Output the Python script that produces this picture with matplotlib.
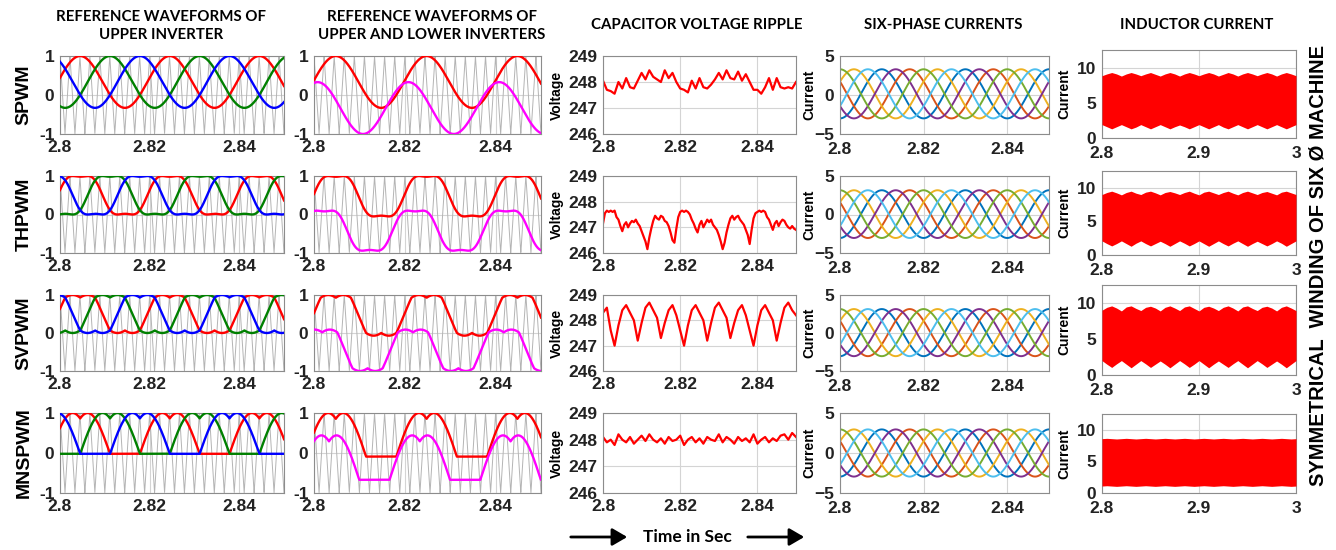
#!/usr/bin/env python3
"""
Reference waveforms, capacitor ripple, phase currents and inductor current
for four PWM schemes of a symmetrical six-phase drive.
Saves out.png (1336 x 550).
"""
import numpy as np
import matplotlib
matplotlib.use("Agg")
import matplotlib.pyplot as plt

W, H = 1336, 550

ROWS = ["SPWM", "THPWM", "SVPWM", "MNSPWM"]
COL_TITLES = [
    "REFERENCE WAVEFORMS OF\nUPPER INVERTER",
    "REFERENCE WAVEFORMS OF\nUPPER AND LOWER INVERTERS",
    "CAPACITOR VOLTAGE RIPPLE",
    "SIX-PHASE CURRENTS",
    "INDUCTOR CURRENT",
]
SIDE_TEXT = "SYMMETRICAL  WINDING OF SIX Ø MACHINE"
TIME_LABEL = "Time in Sec"

# fundamental / carrier (Hz) and zoom window (s)
F0 = 50.0
FC = 450.0
T_START, T_END = 2.80, 2.85

# reference waveforms (upper inverter): red peak time and (min, max) per row
RED_PEAK_C1 = 2.8045
C1_RANGE = [(-0.33, 1.0), (0.0, 1.0), (0.0, 1.0), (-0.02, 1.0)]

# upper (red) and lower (magenta) inverter references
RED_PEAK_C2 = 2.8048
C2_RED_RANGE = [(-0.33, 1.0), (-0.05, 1.0), (-0.07, 1.0), (-0.09, 1.0)]
C2_MAG_RANGE = [(-1.0, 0.33), (-0.94, 0.10), (-1.0, 0.09), (-0.67, 0.44)]
C2_MAG_LEAD = [0.0040, 0.0025, 0.0030, 0.0015]

# capacitor voltage (V), sampled every CAP_STEP s from 2.80
CAP_STEP = [0.001, 0.0005, 0.001, 0.001]
CAP_SPWM = [
    248.05, 247.7, 247.65, 247.55, 248.0, 247.75, 248.15, 247.8, 247.75, 248.05,
    248.35, 248.1, 248.45, 248.2, 248.1, 248.0, 248.45, 248.15, 248.35, 248.0,
    247.75, 247.7, 247.6, 248.05, 247.75, 248.15, 247.8, 247.75, 247.9, 248.1,
    248.35, 248.1, 248.45, 248.15, 248.1, 248.4, 248.05, 248.3, 248.0, 247.7,
    247.7, 247.55, 247.8, 248.15, 247.7, 248.15, 247.8, 247.75, 247.8, 247.75,
    248.0,
]
CAP_THPWM = [
    247.15, 247.55, 247.65, 247.6, 247.65, 247.6, 247.65, 247.4, 247.3, 247.05,
    246.85, 247.1, 247.2, 247.0, 247.15, 247.25, 247.2, 247.3, 247.15, 247.05,
    246.85, 246.65, 246.45, 246.15, 246.6, 246.95, 247.25, 247.45, 247.35, 247.3,
    247.45, 247.4, 247.25, 247.2, 247.05, 246.8, 246.5, 246.4, 246.95, 247.4,
    247.6, 247.65, 247.6, 247.65, 247.6, 247.5, 247.3, 247.15, 246.95, 246.8,
    247.1, 247.25, 247.0, 247.15, 247.3, 247.2, 247.3, 247.1, 247.0, 246.9,
    246.7, 246.45, 246.15, 246.4, 246.8, 247.1, 247.35, 247.45, 247.3, 247.4,
    247.45, 247.3, 247.2, 247.1, 246.9, 246.7, 246.35, 246.9, 247.35, 247.55,
    247.6, 247.65, 247.6, 247.65, 247.6, 247.4, 247.3, 247.1, 246.9, 247.15,
    247.25, 247.05, 247.2, 247.3, 247.25, 247.1, 247.0, 246.95, 247.05, 246.95,
    246.9,
]
CAP_SVPWM = [
    248.3, 248.5, 247.6, 247.0, 247.8, 248.4, 248.6, 248.3, 248.0, 247.2,
    247.9, 248.5, 248.7, 248.4, 248.1, 247.3, 247.9, 248.4, 248.6, 248.2,
    247.6, 247.0, 247.8, 248.4, 248.6, 248.3, 248.0, 247.2, 247.9, 248.5,
    248.7, 248.4, 248.1, 247.3, 247.9, 248.4, 248.6, 248.2, 247.6, 247.0,
    247.8, 248.4, 248.6, 248.3, 248.0, 247.2, 247.9, 248.5, 248.7, 248.4,
    248.2,
]
CAP_MNSPWM = [
    248.1, 247.9, 248.0, 247.8, 248.2, 248.0, 247.9, 248.1, 247.85, 248.0,
    248.15, 247.95, 248.2, 248.0, 247.9, 248.05, 247.85, 248.1, 247.95, 248.0,
    248.15, 247.8, 248.0, 248.1, 247.9, 248.05, 247.85, 248.1, 248.0, 247.95,
    248.2, 247.9, 248.1, 248.0, 247.85, 248.1, 247.95, 248.05, 247.9, 248.2,
    247.85, 248.0, 248.1, 247.9, 248.05, 247.95, 248.15, 248.2, 248.0, 248.25,
    248.1,
]
CAP_DATA = [CAP_SPWM, CAP_THPWM, CAP_SVPWM, CAP_MNSPWM]

# six-phase currents: amplitude / offset (A) per row, phase (deg) per colour
CUR_AMP = [3.15, 3.1, 3.1, 2.95]
CUR_OFFSET = [0.15, 0.05, 0.05, 0.0]
CUR_PHASE_DEG = [180, 60, 300, 120, 0, 240]
CUR_COLORS = ["#0072BD", "#D95319", "#EDB120", "#7E2F8E", "#77AC30", "#4DBEEE"]

# inductor current envelopes (A), sampled every IND_STEP s over 2.8 .. 3.0
IND_STEP = 0.005
IND_UPPER = [
    [8.85, 9.1, 9.3, 9.1, 8.8, 9.1, 9.3, 9.1, 8.85, 9.1, 9.3, 9.05, 8.8, 9.1,
     9.3, 9.1, 8.8, 9.1, 9.3, 9.1, 8.85, 9.1, 9.3, 9.1, 8.8, 9.05, 9.3, 9.1,
     8.8, 9.1, 9.3, 9.1, 8.85, 9.1, 9.3, 9.1, 8.8, 9.1, 9.3, 9.1, 8.85],
    [9.0, 9.3, 9.5, 9.25, 8.95, 9.3, 9.5, 9.2, 9.0, 9.35, 9.5, 9.25, 8.95,
     9.3, 9.45, 9.25, 9.0, 9.3, 9.5, 9.2, 8.95, 9.35, 9.5, 9.25, 9.0, 9.3,
     9.5, 9.2, 8.95, 9.3, 9.5, 9.25, 9.0, 9.3, 9.45, 9.2, 8.95, 9.35, 9.5,
     9.25, 9.0],
    [9.0, 9.4, 9.6, 9.3, 8.9, 9.45, 9.6, 9.25, 8.95, 9.4, 9.55, 9.3, 8.9,
     9.4, 9.6, 9.3, 8.95, 9.45, 9.6, 9.25, 8.9, 9.4, 9.55, 9.3, 8.95, 9.4,
     9.6, 9.3, 8.9, 9.45, 9.6, 9.25, 8.95, 9.4, 9.55, 9.3, 8.9, 9.4, 9.6,
     9.3, 8.95],
    [8.6, 8.65, 8.6, 8.55, 8.6, 8.65, 8.6, 8.55, 8.6, 8.65, 8.6, 8.55, 8.6,
     8.65, 8.6, 8.55, 8.6, 8.65, 8.6, 8.55, 8.6, 8.65, 8.6, 8.55, 8.6, 8.65,
     8.6, 8.55, 8.6, 8.65, 8.6, 8.55, 8.6, 8.65, 8.6, 8.55, 8.6, 8.65, 8.6,
     8.55, 8.6],
]
IND_LOWER = [
    [1.9, 1.6, 1.3, 1.6, 1.9, 1.6, 1.3, 1.55, 1.9, 1.6, 1.3, 1.6, 1.9, 1.6,
     1.3, 1.6, 1.85, 1.6, 1.3, 1.6, 1.9, 1.6, 1.3, 1.6, 1.9, 1.55, 1.3, 1.6,
     1.9, 1.6, 1.3, 1.6, 1.9, 1.6, 1.3, 1.6, 1.9, 1.6, 1.3, 1.6, 1.9],
    [2.1, 1.7, 1.35, 1.7, 2.1, 1.7, 1.3, 1.75, 2.1, 1.7, 1.35, 1.7, 2.05,
     1.7, 1.3, 1.7, 2.1, 1.75, 1.35, 1.7, 2.1, 1.7, 1.3, 1.7, 2.1, 1.7, 1.35,
     1.75, 2.1, 1.7, 1.3, 1.7, 2.05, 1.7, 1.35, 1.7, 2.1, 1.75, 1.3, 1.7,
     2.1],
    [2.0, 1.5, 1.05, 1.55, 2.0, 1.5, 1.0, 1.5, 2.0, 1.55, 1.05, 1.5, 1.95,
     1.5, 1.0, 1.5, 2.0, 1.55, 1.05, 1.5, 2.0, 1.5, 1.0, 1.5, 1.95, 1.5,
     1.05, 1.55, 2.0, 1.5, 1.0, 1.5, 2.0, 1.55, 1.05, 1.5, 1.95, 1.5, 1.0,
     1.5, 2.0],
    [1.1, 1.15, 1.1, 1.05, 1.1, 1.15, 1.1, 1.05, 1.1, 1.15, 1.1, 1.05, 1.1,
     1.15, 1.1, 1.05, 1.1, 1.15, 1.1, 1.05, 1.1, 1.15, 1.1, 1.05, 1.1, 1.15,
     1.1, 1.05, 1.1, 1.15, 1.1, 1.05, 1.1, 1.15, 1.1, 1.05, 1.1, 1.15, 1.1,
     1.05, 1.1],
]

# layout in pixels
COL_X = [(60, 284), (314, 541), (603, 796), (840, 1049), (1102, 1296)]
ROW_Y = [(56, 134), (176, 253), (295, 371), (413, 493)]
ROW_Y5 = [(50, 138), (171, 255), (285, 375), (414, 493)]

TICK_FONT = "Liberation Sans"
TITLE_FONT = "Lato"
GRID_C = "#d4d4d4"
BOX_C = "#8c8c8c"


def px_axes(fig, xs, ys):
    """Add axes from pixel box (x0, x1), (y_top, y_bottom)"""
    x0, x1 = xs
    y0, y1 = ys
    return fig.add_axes([x0 / W, 1 - y1 / H, (x1 - x0) / W, (y1 - y0) / H])


def style_axes(ax, fs=12.5, xpad=4):
    ax.set_facecolor("white")
    for s in ax.spines.values():
        s.set_color(BOX_C)
        s.set_linewidth(0.8)
    ax.grid(True, color=GRID_C, lw=0.8)
    ax.set_axisbelow(True)
    ax.tick_params(length=0, labelsize=fs, colors="#222222")
    ax.tick_params(axis="x", pad=xpad)
    ax.tick_params(axis="y", pad=4)
    for lab in ax.get_xticklabels() + ax.get_yticklabels():
        lab.set_fontweight("bold")
        lab.set_fontfamily(TICK_FONT)


def carrier(t):
    ph = (t * FC) % 1.0
    return 4 * np.abs(ph - 0.5) - 1


def shape(theta, scheme):
    """Normalised reference (0..1) for the phase at angle theta"""
    sa = np.sin(theta)
    sb = np.sin(theta - 2 * np.pi / 3)
    sc = np.sin(theta + 2 * np.pi / 3)
    if scheme == "SPWM":
        v = sa
    elif scheme == "THPWM":
        v = (sa + np.sin(3 * theta) / 6) / (np.sqrt(3) / 2)
    elif scheme == "SVPWM":
        cm = -(np.maximum(np.maximum(sa, sb), sc)
               + np.minimum(np.minimum(sa, sb), sc)) / 2
        v = (sa + cm) / (np.sqrt(3) / 2)
    else:
        mn = np.minimum(np.minimum(sa, sb), sc)
        return (sa - mn) / np.sqrt(3)
    return (v + 1) / 2


def scaled(theta, scheme, rng):
    lo, hi = rng
    return lo + (hi - lo) * shape(theta, scheme)


def ref_axes(ax):
    ax.set_xlim(T_START, T_END)
    ax.set_ylim(-1, 1)
    ax.set_xticks([2.8, 2.82, 2.84])
    ax.set_xticklabels(["2.8", "2.82", "2.84"])
    ax.set_yticks([-1, 0, 1])
    ax.set_yticklabels(["-1", "0", "1"])
    style_axes(ax)


def main():
    plt.rcParams["font.family"] = [TICK_FONT, "DejaVu Sans"]
    fig = plt.figure(figsize=(W / 100, H / 100), dpi=100)
    fig.patch.set_facecolor("white")

    t = np.linspace(T_START, T_END, 3000)
    w = 2 * np.pi * F0

    for r, scheme in enumerate(ROWS):
        # column 1: three references of the upper inverter
        ax = px_axes(fig, COL_X[0], ROW_Y[r])
        ax.plot(t, carrier(t), color="#b4b4b4", lw=0.7, zorder=1)
        th = w * (t - RED_PEAK_C1) + np.pi / 2
        for k, col in zip([0, -1, 1], ["#ff0000", "#008000", "#0000ff"]):
            ax.plot(t, scaled(th + k * 2 * np.pi / 3, scheme, C1_RANGE[r]),
                    color=col, lw=1.7, zorder=3)
        ref_axes(ax)

        # column 2: upper (red) and lower (magenta) references
        ax = px_axes(fig, COL_X[1], ROW_Y[r])
        ax.plot(t, carrier(t), color="#b4b4b4", lw=0.7, zorder=1)
        th = w * (t - RED_PEAK_C2) + np.pi / 2
        ax.plot(t, scaled(th, scheme, C2_RED_RANGE[r]),
                color="#ff0000", lw=1.7, zorder=3)
        ax.plot(t, scaled(th + w * C2_MAG_LEAD[r], scheme, C2_MAG_RANGE[r]),
                color="#ff00ff", lw=1.7, zorder=3)
        ref_axes(ax)

        # column 3: capacitor voltage ripple
        ax = px_axes(fig, COL_X[2], ROW_Y[r])
        v = np.array(CAP_DATA[r])
        tv = T_START + CAP_STEP[r] * np.arange(len(v))
        ax.plot(tv, v, color="#ff0000", lw=1.6)
        ax.set_xlim(T_START, T_END)
        ax.set_ylim(246, 249)
        ax.set_xticks([2.8, 2.82, 2.84])
        ax.set_xticklabels(["2.8", "2.82", "2.84"])
        ax.set_yticks([246, 247, 248, 249])
        style_axes(ax)
        ax.set_ylabel("Voltage", fontsize=10, fontweight="bold")
        ax.yaxis.set_label_coords(-0.2, 0.5)

        # column 4: six-phase currents
        ax = px_axes(fig, COL_X[3], ROW_Y[r])
        for ph, col in zip(CUR_PHASE_DEG, CUR_COLORS):
            i = CUR_OFFSET[r] + CUR_AMP[r] * np.cos(
                w * (t - T_START) + np.deg2rad(ph))
            ax.plot(t, i, color=col, lw=1.4)
        ax.set_xlim(T_START, T_END)
        ax.set_ylim(-5, 5)
        ax.set_xticks([2.8, 2.82, 2.84])
        ax.set_xticklabels(["2.8", "2.82", "2.84"])
        ax.set_yticks([-5, 0, 5])
        style_axes(ax, xpad=6)
        ax.set_ylabel("Current", fontsize=10, fontweight="bold")
        ax.yaxis.set_label_coords(-0.115, 0.5)

        # column 5: inductor current (dense switching ripple)
        ax = px_axes(fig, COL_X[4], ROW_Y5[r])
        up = np.array(IND_UPPER[r])
        lo = np.array(IND_LOWER[r])
        ti = 2.8 + IND_STEP * np.arange(len(up))
        ax.fill_between(ti, lo, up, color="#ff0000", lw=0, zorder=3)
        ax.set_xlim(2.8, 3.0)
        ax.set_ylim(0, 12.5)
        ax.set_xticks([2.8, 2.9, 3.0])
        ax.set_xticklabels(["2.8", "2.9", "3"])
        ax.set_yticks([0, 5, 10])
        style_axes(ax, xpad=6)
        ax.set_ylabel("Current", fontsize=10, fontweight="bold")
        ax.yaxis.set_label_coords(-0.16, 0.5)

        # row label
        yc = (ROW_Y[r][0] + ROW_Y[r][1]) / 2
        fig.text(24 / W, 1 - yc / H, scheme, rotation=90, ha="center",
                 va="center", fontsize=14, fontweight="bold")

    # column titles
    title_pos = [(161, 26), (432, 26), (697, 25), (943, 25), (1197, 25)]
    for (x, y), txt in zip(title_pos, COL_TITLES):
        fig.text(x / W, 1 - y / H, txt, ha="center", va="center",
                 fontsize=10.8, fontweight="bold", family=TITLE_FONT,
                 linespacing=1.35)

    # side label
    fig.text(1318 / W, 1 - 265 / H, SIDE_TEXT, rotation=90, ha="center",
             va="center", fontsize=14.5, fontweight="bold", family=TICK_FONT)

    # time axis note with arrows
    yb = 1 - 537 / H
    fig.text(687 / W, yb, TIME_LABEL, ha="center", va="center",
             fontsize=12.5, fontweight="bold", family=TITLE_FONT)
    for xa, xb in [(568, 630), (745, 807)]:
        fig.add_artist(matplotlib.patches.FancyArrowPatch(
            (xa / W, yb), (xb / W, yb), transform=fig.transFigure,
            arrowstyle="-|>,head_length=6,head_width=3.5", lw=2,
            color="black", mutation_scale=1.5))

    fig.savefig("out.png", dpi=100, facecolor="white")
    plt.close(fig)
    return 0


if __name__ == "__main__":
    raise SystemExit(main())
